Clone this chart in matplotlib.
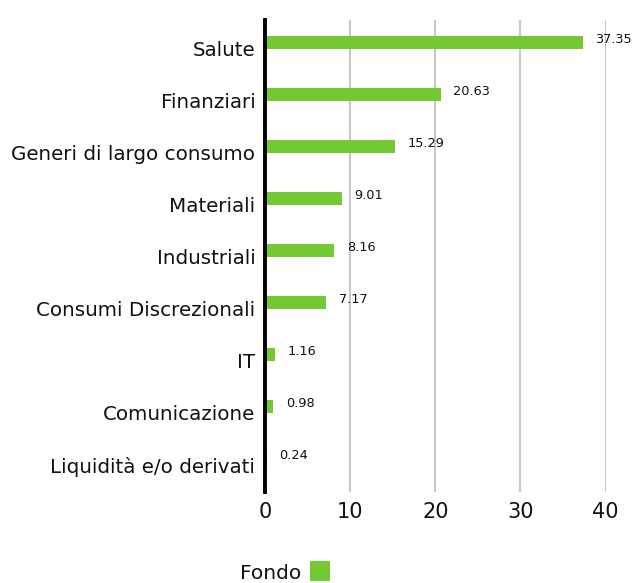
import matplotlib
matplotlib.use("Agg")
import matplotlib.pyplot as plt
from matplotlib.patches import Rectangle

plt.rcParams['font.family'] = ['DejaVu Sans']

categories = ["Salute", "Finanziari", "Generi di largo consumo", "Materiali",
              "Industriali", "Consumi Discrezionali", "IT", "Comunicazione",
              "Liquidità e/o derivati"]
values = [37.35, 20.63, 15.29, 9.01, 8.16, 7.17, 1.16, 0.98, 0.24]
value_labels = ["37.35", "20.63", "15.29", "9.01", "8.16", "7.17", "1.16", "0.98", "0.24"]
xticks = [0, 10, 20, 30, 40]
series_name = "Fondo"
green = "#74c932"

W, H = 633, 583
fig = plt.figure(figsize=(W/100, H/100), dpi=100)
ax = fig.add_axes([265/W, 1-492/H, (606-265)/W, (492-20)/H])

pos = list(range(len(categories)))
ax.barh(pos, values, height=0.25, color=green, zorder=3)
ax.set_ylim(8 + 34/52, -22/52)
ax.set_xlim(0, 40.05)

# labels sit slightly below bar centres, as in the reference
label_shift = 6.5 / 52
ax.set_yticks([p + label_shift for p in pos])
ax.set_yticklabels(categories, fontsize=14.3, color="#111111")
ax.set_xticks(xticks)
ax.set_xticklabels([str(t) for t in xticks], fontsize=15, color="#111111")
ax.tick_params(axis='both', length=0)
ax.tick_params(axis='y', pad=7)
ax.tick_params(axis='x', pad=7)

ax.grid(axis='x', color="#c8c8c8", linewidth=1.5, zorder=0)
ax.grid(axis='y', visible=False)
for s in ["top", "right", "bottom"]:
    ax.spines[s].set_visible(False)
ax.spines["left"].set_linewidth(2.8)
ax.spines["left"].set_color("black")
ax.spines["left"].set_zorder(5)

for p, v, t in zip(pos, values, value_labels):
    ax.annotate(t, xy=(v, p), xytext=(9, 1.5), textcoords='offset points',
                fontsize=9.3, va='center', ha='left', color="#111111", clip_on=False)

fig.text(240/W, 1-579/H, series_name, fontsize=14.5, color="#111111",
         ha='left', va='baseline')
fig.patches.append(Rectangle((310/W, 1-581/H), 20/W, 20/H, transform=fig.transFigure,
                             facecolor=green, edgecolor='none'))

fig.savefig("out.png", dpi=100)
